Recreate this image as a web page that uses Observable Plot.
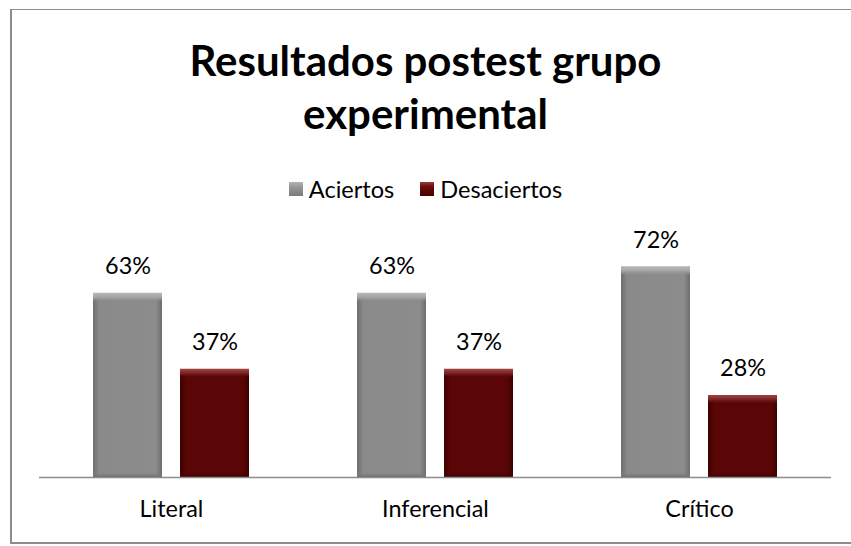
<!DOCTYPE html>
<html><head><meta charset="utf-8">
<script src="https://cdn.jsdelivr.net/npm/d3@7"></script>
<script src="https://cdn.jsdelivr.net/npm/@observablehq/plot@0.6"></script>
<style>
body{margin:0;background:#fff;}
#wrap{position:relative;width:851px;height:546px;overflow:hidden;font-family:Lato,"Open Sans",sans-serif;background:#fff;}
#frame{position:absolute;left:10px;top:9px;width:845px;height:535px;border-left:2px solid #8c8c8c;border-top:1px solid #8c8c8c;border-bottom:2px solid #8c8c8c;box-sizing:border-box;}
.title{position:absolute;left:0;width:851px;text-align:center;font-weight:bold;color:#000;white-space:nowrap;}
#legend{position:absolute;left:0;width:851px;display:flex;justify-content:center;align-items:center;color:#000;}
.item{display:flex;align-items:center;}
.sw{display:inline-block;width:14px;height:14px;margin-right:6px;box-sizing:border-box;}
#chart{position:absolute;left:0;top:200px;}
</style></head>
<body><div id="wrap"><div id="frame"></div>
<div class="title" id="t1"></div><div class="title" id="t2"></div>
<div id="legend"></div><div id="chart"></div></div>
<script>
const categories = ["Literal", "Inferencial", "Crítico"];
const series = ["Aciertos", "Desaciertos"];
const aciertos = [63, 63, 72];
const desaciertos = [37, 37, 28];
const titleLines = ["Resultados postest grupo", "experimental"];

const data = [];
categories.forEach((c, i) => {
  data.push({cat: c, serie: series[0], value: aciertos[i]});
  data.push({cat: c, serie: series[1], value: desaciertos[i]});
});

function fit(text, weight, target) {
  const ctx = document.createElement("canvas").getContext("2d");
  ctx.font = `${weight} 100px Lato`;
  return 100 * target / ctx.measureText(text).width;
}
const titleSize = fit(titleLines[0], "bold", 472);
const labelSize = (fit("Literal", "normal", 62) + fit("63%", "normal", 45) + fit("Inferencial", "normal", 112)) / 3;
const legendSize = fit("Desaciertos", "normal", 122);

function placeLine(el, text, size, baseline) {
  el.textContent = text;
  el.style.fontSize = size + "px";
  el.style.lineHeight = (1.2 * size) + "px";
  el.style.top = (baseline - 0.987 * size) + "px";
}
placeLine(document.getElementById("t1"), titleLines[0], titleSize, 76);
placeLine(document.getElementById("t2"), titleLines[1], titleSize, 129);

const swatchBg = {
  Aciertos: "linear-gradient(to bottom,#b4b4b4 0%,#9a9a9a 30%,#8c8c8c 60%,#7a7a7a 100%)",
  Desaciertos: "linear-gradient(to bottom,#9a3a3a 0%,#6e1010 30%,#5a0606 60%,#4a0303 100%)"
};
const legend = document.getElementById("legend");
legend.style.fontSize = legendSize + "px";
legend.style.top = (189 - 0.6 * legendSize) + "px";
legend.style.height = (1.2 * legendSize) + "px";
series.forEach((s, i) => {
  const it = document.createElement("span");
  it.className = "item";
  if (i > 0) it.style.marginLeft = "26px";
  const sw = document.createElement("span");
  sw.className = "sw";
  sw.style.background = swatchBg[s];
  it.appendChild(sw);
  it.appendChild(document.createTextNode(s));
  legend.appendChild(it);
});

const fills = {Aciertos: "url(#gA)", Desaciertos: "url(#gD)"};
const tops = {Aciertos: "url(#tA)", Desaciertos: "url(#tD)"};
const bottoms = {Aciertos: "url(#bA)", Desaciertos: "url(#bD)"};

const plot = Plot.plot({
  width: 851,
  height: 340,
  marginTop: 14,
  marginBottom: 63,
  marginLeft: 38,
  marginRight: 19,
  style: {fontFamily: "Lato, 'Open Sans', sans-serif", fontSize: labelSize + "px", color: "#000", background: "transparent", overflow: "visible"},
  fx: {domain: categories, padding: 0, label: null},
  x: {domain: series, paddingInner: 0.2045, paddingOuter: 0.606, axis: null},
  y: {domain: [0, 90], axis: null},
  marks: [
    Plot.axisFx({anchor: "bottom", tickSize: 0, tickPadding: 23, label: null, fontSize: labelSize}),
    ...series.map(s => Plot.barY(data.filter(d => d.serie === s), {fx: "cat", x: "serie", y: "value", fill: fills[s]})),
    ...series.map(s => Plot.barY(data.filter(d => d.serie === s), {fx: "cat", x: "serie", y1: "value", y2: "value", insetBottom: -9, fill: tops[s]})),
    ...series.map(s => Plot.barY(data.filter(d => d.serie === s), {fx: "cat", x: "serie", y1: 0, y2: 0, insetTop: -5, fill: bottoms[s]})),
    Plot.ruleY([0], {stroke: "#8c8c8c", strokeWidth: 1.5}),
    Plot.text(data, {fx: "cat", x: "serie", y: "value", text: d => d.value + "%", dy: -27, fontSize: labelSize, fill: "#000"})
  ]
});

const defs = document.createElementNS("http://www.w3.org/2000/svg", "defs");
defs.innerHTML = `
<linearGradient id="gA" x1="0" x2="1" y1="0" y2="0">
  <stop offset="0" stop-color="#6e6e6e"/><stop offset="0.09" stop-color="#8a8a8a"/>
  <stop offset="0.91" stop-color="#8c8c8c"/><stop offset="1" stop-color="#6c6c6c"/>
</linearGradient>
<linearGradient id="gD" x1="0" x2="1" y1="0" y2="0">
  <stop offset="0" stop-color="#3c0202"/><stop offset="0.09" stop-color="#5a0606"/>
  <stop offset="0.91" stop-color="#5a0606"/><stop offset="1" stop-color="#3a0202"/>
</linearGradient>
<linearGradient id="tA" x1="0" x2="0" y1="0" y2="1">
  <stop offset="0" stop-color="#b8b8b8"/><stop offset="0.5" stop-color="#a3a3a3"/><stop offset="1" stop-color="#8c8c8c" stop-opacity="0"/>
</linearGradient>
<linearGradient id="tD" x1="0" x2="0" y1="0" y2="1">
  <stop offset="0" stop-color="#a04545"/><stop offset="0.5" stop-color="#7a2020"/><stop offset="1" stop-color="#5a0606" stop-opacity="0"/>
</linearGradient>
<linearGradient id="bA" x1="0" x2="0" y1="0" y2="1">
  <stop offset="0" stop-color="#8c8c8c" stop-opacity="0"/><stop offset="1" stop-color="#6a6a6a"/>
</linearGradient>
<linearGradient id="bD" x1="0" x2="0" y1="0" y2="1">
  <stop offset="0" stop-color="#5a0606" stop-opacity="0"/><stop offset="1" stop-color="#380202"/>
</linearGradient>`;
plot.insertBefore(defs, plot.firstChild);
document.getElementById("chart").appendChild(plot);
</script></body></html>
